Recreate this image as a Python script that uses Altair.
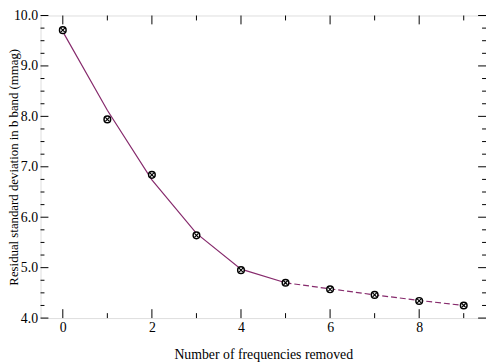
import altair as alt
import pandas as pd

# data
n_removed = [0, 1, 2, 3, 4, 5, 6, 7, 8, 9]
resid_sd = [9.71, 7.94, 6.84, 5.64, 4.95, 4.70, 4.57, 4.46, 4.34, 4.25]

fit_x_solid = [0, 1, 2, 3, 4, 5]
fit_y_solid = [9.68, 8.12, 6.74, 5.68, 4.97, 4.70]
fit_x_dash = [5, 6, 7, 8, 9]
fit_y_dash = [4.70, 4.58, 4.46, 4.35, 4.25]

y_major = [4, 5, 6, 7, 8, 9, 10]
y_minor = [4.25, 4.5, 4.75, 5.25, 5.5, 5.75, 6.25, 6.5, 6.75, 7.25, 7.5, 7.75,
           8.25, 8.5, 8.75, 9.25, 9.5, 9.75]
x_major = [0, 2, 4, 6, 8]
x_minor = [1, 3, 5, 7, 9]

W, H = 452, 307
FONT = "Liberation Serif"
LINE_COLOR = "#862a6c"

pts = pd.DataFrame({"x": n_removed, "y": resid_sd})
solid = pd.DataFrame({"x": fit_x_solid, "y": fit_y_solid})
dash = pd.DataFrame({"x": fit_x_dash, "y": fit_y_dash})

xs = alt.Scale(domain=[-0.5, 9.5], nice=False, zero=False)
ys = alt.Scale(domain=[4, 10], nice=False, zero=False)

xaxis = alt.Axis(values=x_major, ticks=False, labelFont=FONT, labelFontSize=14,
                 labelColor="black", labelPadding=3, title="Number of frequencies removed",
                 titleFont=FONT, titleFontSize=14, titleFontWeight="normal", titleColor="black",
                 titlePadding=13, domain=False, grid=False, labelFlush=False)
yaxis = alt.Axis(values=y_major, format=".1f", ticks=False, labelFont=FONT, labelFontSize=14,
                 labelColor="black", labelPadding=3, title="Residual standard deviation in b band (mmag)",
                 titleFont=FONT, titleFontSize=13, titleFontWeight="normal", titleColor="black",
                 titleX=-20, titleBaseline="bottom", domain=False, grid=False, labelFlush=False)

base_x = alt.X("x:Q", scale=xs, axis=xaxis)
base_y = alt.Y("y:Q", scale=ys, axis=yaxis)

line_solid = alt.Chart(solid).mark_line(color=LINE_COLOR, strokeWidth=1.2).encode(x=base_x, y=base_y)
line_dash = alt.Chart(dash).mark_line(color=LINE_COLOR, strokeWidth=1.2, strokeDash=[6, 3]).encode(
    x=alt.X("x:Q", scale=xs), y=alt.Y("y:Q", scale=ys))

circles = alt.Chart(pts).mark_point(shape="circle", size=45, filled=True, fill="white",
                                    stroke="black", strokeWidth=1.5, opacity=1).encode(
    x=alt.X("x:Q", scale=xs), y=alt.Y("y:Q", scale=ys))
crosses = alt.Chart(pts).mark_point(shape="M-0.6,-0.6L0.6,0.6M-0.6,0.6L0.6,-0.6", size=45,
                                    filled=False, stroke="black", strokeWidth=1.2, opacity=1).encode(
    x=alt.X("x:Q", scale=xs), y=alt.Y("y:Q", scale=ys))

# inward ticks
ymaj = pd.DataFrame({"y": y_major})
ymin = pd.DataFrame({"y": y_minor})
xmaj = pd.DataFrame({"x": x_major})
xmin = pd.DataFrame({"x": x_minor})

def yticks(df, length):
    left = alt.Chart(df).mark_rule(color="black", strokeWidth=1).encode(
        y=alt.Y("y:Q", scale=ys), x=alt.value(0), x2=alt.value(length))
    right = alt.Chart(df).mark_rule(color="black", strokeWidth=1).encode(
        y=alt.Y("y:Q", scale=ys), x=alt.value(W), x2=alt.value(W - length))
    return left + right

def xticks(df, length):
    bottom = alt.Chart(df).mark_rule(color="black", strokeWidth=1).encode(
        x=alt.X("x:Q", scale=xs), y=alt.value(H), y2=alt.value(H - length))
    top = alt.Chart(df).mark_rule(color="black", strokeWidth=1).encode(
        x=alt.X("x:Q", scale=xs), y=alt.value(0), y2=alt.value(length))
    return bottom + top

chart = alt.layer(
    line_solid, line_dash,
    yticks(ymaj, 8), yticks(ymin, 4), xticks(xmaj, 9), xticks(xmin, 5),
    circles, crosses,
).properties(
    width=W, height=H,
    autosize=alt.AutoSizeParams(type="none"),
    padding={"left": 33, "top": 5, "right": 0, "bottom": 45},
).configure_view(
    stroke="black", strokeWidth=1.5
).configure(background="white")

chart.save("out.html", embed_options={"renderer": "svg", "actions": False})
